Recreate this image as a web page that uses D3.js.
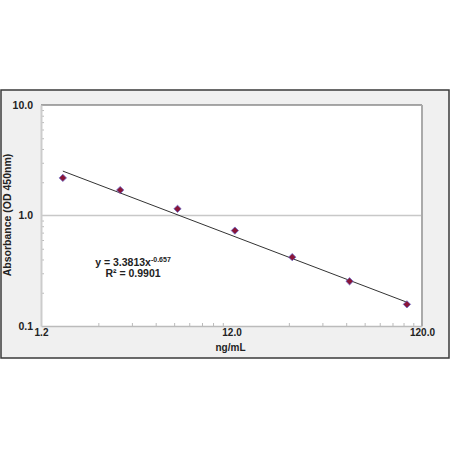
<!DOCTYPE html>
<html>
<head>
<meta charset="utf-8">
<script src="https://cdn.jsdelivr.net/npm/d3@7"></script>
<style>
  body { margin: 0; background: #fff; }
  text { font-family: "Liberation Sans", Arial, sans-serif; }
</style>
</head>
<body>
<script>
// data
const conc = [1.5625, 3.125, 6.25, 12.5, 25, 50, 100];
const od = [2.19, 1.70, 1.15, 0.73, 0.42, 0.254, 0.157];
const xTicks = [1.2, 12, 120];
const yTicks = [0.1, 1, 10];
const fitA = 3.3813, fitB = -0.657;
const fitLabel = "y = 3.3813x", fitExp = "-0.657", r2Label = "R\u00b2 = 0.9901";

const width = 450, height = 450;
const box = { left: 1, top: 90, right: 449, bottom: 358 };
const plot = { left: 41, top: 105, right: 422, bottom: 326 };

const svg = d3.select("body").append("svg")
  .attr("width", width).attr("height", height);

// outer panel
svg.append("rect")
  .attr("x", box.left).attr("y", box.top)
  .attr("width", box.right - box.left).attr("height", box.bottom - box.top)
  .attr("fill", "#f0f0f0").attr("stroke", "#3a3a3a").attr("stroke-width", 1.5);

// plot area
svg.append("rect")
  .attr("x", plot.left).attr("y", plot.top)
  .attr("width", plot.right - plot.left).attr("height", plot.bottom - plot.top)
  .attr("fill", "#fff");

const x = d3.scaleLog().domain([1.2, 120]).range([plot.left, plot.right]);
const y = d3.scaleLog().domain([0.1, 10]).range([plot.bottom, plot.top]);

// minor tick positions
const xMinor = [], yMinor = [];
[1.2, 12].forEach(b => { for (let k = 2; k <= 9; k++) xMinor.push(b * k); });
[0.1, 1].forEach(b => { for (let k = 2; k <= 9; k++) yMinor.push(b * k); });

// gridline at 1.0
svg.append("line")
  .attr("x1", plot.left).attr("x2", plot.right)
  .attr("y1", y(1)).attr("y2", y(1))
  .attr("stroke", "#c8c8c8").attr("stroke-width", 1.5);

// top and right borders
svg.append("line")
  .attr("x1", plot.left).attr("x2", plot.right)
  .attr("y1", plot.top).attr("y2", plot.top)
  .attr("stroke", "#555").attr("stroke-width", 1.2);
svg.append("line")
  .attr("x1", plot.right).attr("x2", plot.right)
  .attr("y1", plot.top).attr("y2", plot.bottom)
  .attr("stroke", "#aaa").attr("stroke-width", 2);

// x axis
const xMinorG = svg.append("g")
  .attr("transform", `translate(0,${plot.bottom})`)
  .call(d3.axisBottom(x).tickValues(xMinor).tickSize(-3).tickFormat(""));
xMinorG.select(".domain").remove();
xMinorG.selectAll("line").attr("stroke", "#bbb");

const xAxisG = svg.append("g")
  .attr("transform", `translate(0,${plot.bottom})`)
  .call(d3.axisBottom(x).tickValues(xTicks).tickSize(0).tickPadding(3)
    .tickFormat(d3.format(".1f")));
xAxisG.select(".domain").attr("stroke", "#bbb").attr("stroke-width", 1.5);
xAxisG.selectAll("text")
  .attr("font-size", 10).attr("font-weight", "bold").attr("fill", "#222");

// y axis
const yMinorG = svg.append("g")
  .attr("transform", `translate(${plot.left},0)`)
  .call(d3.axisLeft(y).tickValues(yMinor).tickSize(-3).tickFormat(""));
yMinorG.select(".domain").remove();
yMinorG.selectAll("line").attr("stroke", "#bbb");

const yAxisG = svg.append("g")
  .attr("transform", `translate(${plot.left},0)`)
  .call(d3.axisLeft(y).tickValues(yTicks).tickSize(0).tickPadding(8)
    .tickFormat(d3.format(".1f")));
yAxisG.select(".domain").attr("stroke", "#ccc").attr("stroke-width", 2);
yAxisG.selectAll("text")
  .attr("font-size", 10.5).attr("font-weight", "bold").attr("fill", "#222");

// axis titles
svg.append("text")
  .attr("x", (plot.left + plot.right) / 2 - 1).attr("y", 351)
  .attr("text-anchor", "middle")
  .attr("font-size", 10).attr("font-weight", "bold").attr("fill", "#222")
  .text("ng/mL");

svg.append("text")
  .attr("transform", `translate(11,${215}) rotate(-90)`)
  .attr("text-anchor", "middle")
  .attr("font-size", 10.5).attr("font-weight", 600).attr("fill", "#222")
  .text("Absorbance  (OD 450nm)");

// power trendline from the fitted equation
const xs = d3.extent(conc);
svg.append("line")
  .attr("x1", x(xs[0])).attr("y1", y(fitA * Math.pow(xs[0], fitB)))
  .attr("x2", x(xs[1])).attr("y2", y(fitA * Math.pow(xs[1], fitB)))
  .attr("stroke", "#333").attr("stroke-width", 1);

// markers
svg.selectAll("path.pt")
  .data(conc)
  .enter().append("path")
  .attr("class", "pt")
  .attr("d", d3.symbol().type(d3.symbolDiamond2).size(34))
  .attr("transform", (d, i) => `translate(${x(d)},${y(od[i])})`)
  .attr("fill", "#8a1538")
  .attr("stroke", "#6b6bc8").attr("stroke-width", 0.8);

// equation label
const eq = svg.append("text")
  .attr("x", 133).attr("y", 266)
  .attr("text-anchor", "middle")
  .attr("font-size", 10.5).attr("font-weight", "bold").attr("fill", "#222");
eq.append("tspan").text(fitLabel);
eq.append("tspan").attr("dy", -4).attr("font-size", 7).text(fitExp);

svg.append("text")
  .attr("x", 133).attr("y", 277)
  .attr("text-anchor", "middle")
  .attr("font-size", 10.5).attr("font-weight", "bold").attr("fill", "#222")
  .text(r2Label);
</script>
</body>
</html>
